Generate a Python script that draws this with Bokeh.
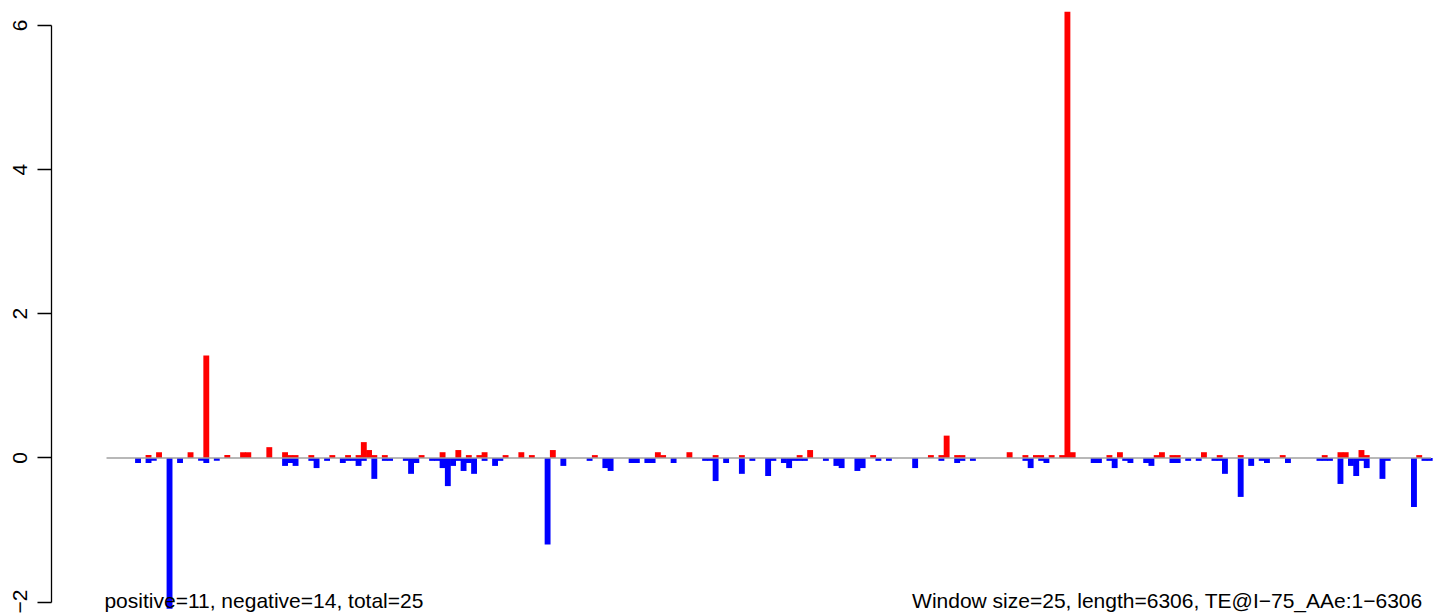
from bokeh.plotting import figure
from bokeh.models import Range1d, FixedTicker, CustomJSTickFormatter, Label, ColumnDataSource
from bokeh.embed import file_html
from bokeh.resources import INLINE

window_size = 25
seq_length = 6306

# positive (red) windows: window index, value
pos_idx = [8, 10, 16, 19, 23, 26, 27, 31, 34, 35, 36, 39, 43, 46, 48, 49, 50, 51, 53, 60,
           64, 67, 69, 71, 72, 76, 79, 81, 85, 93, 105, 106, 111, 116, 121, 132, 134, 146,
           157, 159, 160, 162, 163, 172, 175, 177, 178, 180, 182, 183, 184, 191, 193, 200,
           201, 203, 204, 209, 212, 216, 224, 232, 235, 236, 239, 240, 250]
pos_val = [0.04, 0.08, 0.08, 1.42, 0.04, 0.08, 0.08, 0.15, 0.08, 0.04, 0.04, 0.04, 0.04, 0.04, 0.04, 0.22, 0.11, 0.04, 0.04, 0.04,
           0.08, 0.11, 0.04, 0.04, 0.08, 0.04, 0.08, 0.04, 0.11, 0.04, 0.08, 0.04, 0.08, 0.04, 0.04, 0.04, 0.11, 0.04,
           0.04, 0.04, 0.31, 0.04, 0.04, 0.08, 0.04, 0.04, 0.04, 0.04, 0.04, 6.19, 0.08, 0.04, 0.08, 0.04,
           0.08, 0.04, 0.04, 0.08, 0.04, 0.04, 0.04, 0.04, 0.08, 0.08, 0.11, 0.04, 0.04]

# negative (blue) windows: window index, value
neg_idx = [6, 8, 9, 12, 14, 18, 19, 21, 34, 35, 36, 39, 40, 42, 45, 46, 47, 48, 49, 51,
           53, 54, 57, 58, 59, 62, 63, 64, 65, 66, 67, 68, 69, 70, 72, 74, 75, 84, 87, 92,
           95, 96, 100, 101, 103, 104, 108, 114, 115, 116, 118, 121, 123, 126, 127, 129, 130,
           131, 132, 133, 137, 139, 140, 143, 144, 147, 149, 154, 159, 162, 163, 165, 175,
           176, 178, 179, 188, 189, 191, 192, 194, 195, 198, 199, 203, 204, 206, 208, 211,
           212, 213, 216, 218, 220, 221, 225, 231, 232, 233, 235, 237, 238, 239, 240, 243,
           244, 249, 251, 252]
neg_val = [-0.07, -0.07, -0.04, -2.09, -0.07, -0.04, -0.07, -0.04, -0.11, -0.07, -0.11, -0.04, -0.14, -0.04, -0.07, -0.04, -0.04, -0.11, -0.04, -0.29,
           -0.04, -0.04, -0.04, -0.22, -0.07, -0.04, -0.04, -0.14, -0.39, -0.11, -0.04, -0.18, -0.07, -0.22, -0.04, -0.11, -0.04, -1.20, -0.11, -0.04,
           -0.14, -0.18, -0.07, -0.07, -0.07, -0.07, -0.07, -0.04, -0.04, -0.32, -0.07, -0.22, -0.04, -0.25, -0.04, -0.07, -0.14,
           -0.04, -0.04, -0.04, -0.04, -0.11, -0.14, -0.18, -0.14, -0.04, -0.04, -0.14, -0.04, -0.07, -0.04, -0.04, -0.04,
           -0.14, -0.04, -0.07, -0.07, -0.07, -0.04, -0.14, -0.04, -0.07, -0.07, -0.11, -0.07, -0.07, -0.04, -0.04, -0.04,
           -0.04, -0.22, -0.54, -0.11, -0.04, -0.07, -0.07, -0.04, -0.04, -0.04, -0.36, -0.11, -0.25, -0.04, -0.14, -0.29,
           -0.04, -0.68, -0.04, -0.04]

y_ticks = [-2, 0, 2, 4, 6]
left_text = "positive=11, negative=14, total=25"
right_text = "Window size=25, length=6306, TE@I\u221275_AAe:1\u22126306"

pos_src = ColumnDataSource(dict(x=[i * window_size for i in pos_idx], top=pos_val))
neg_src = ColumnDataSource(dict(x=[i * window_size for i in neg_idx], bottom=neg_val))

p = figure(width=1433, height=613, output_backend="svg", toolbar_location=None,
           x_range=Range1d(-262, 6318), y_range=Range1d(-2.157, 6.345),
           x_axis_type=None, min_border_left=51, min_border_right=0,
           min_border_top=0, min_border_bottom=0)
p.outline_line_color = None
p.grid.visible = False
p.background_fill_color = "white"
p.border_fill_color = "white"

p.vbar(x="x", top="top", bottom=0, width=28, source=pos_src,
       fill_color="#FF0000", line_color=None)
p.vbar(x="x", top=0, bottom="bottom", width=28, source=neg_src,
       fill_color="#0000FF", line_color=None)
p.line([0, seq_length], [0, 0], line_color="#a0a0a0", line_width=1.5)

ax = p.yaxis[0]
ax.ticker = FixedTicker(ticks=y_ticks)
ax.bounds = (-2, 6)
ax.formatter = CustomJSTickFormatter(code="return tick < 0 ? '\\u2212' + Math.abs(tick) : String(tick);")
ax.major_label_orientation = "vertical"
ax.major_tick_out = 14
ax.major_tick_in = 0
ax.minor_tick_out = 0
ax.minor_tick_in = 0
ax.major_label_standoff = 10
ax.major_label_text_font = "Liberation Sans"
ax.major_label_text_font_size = "21px"
ax.major_label_text_color = "black"
ax.axis_line_color = "black"
ax.axis_line_width = 1.3
ax.major_tick_line_width = 1.3

for txt, xx, align in [(left_text, -10, "left"), (right_text, 6266, "right")]:
    p.add_layout(Label(x=xx, y=-1.972, text=txt, text_align=align,
                       text_baseline="middle", text_font="Liberation Sans",
                       text_font_size="21px", text_color="black"))

open("out.html", "w").write(file_html(p, INLINE))
